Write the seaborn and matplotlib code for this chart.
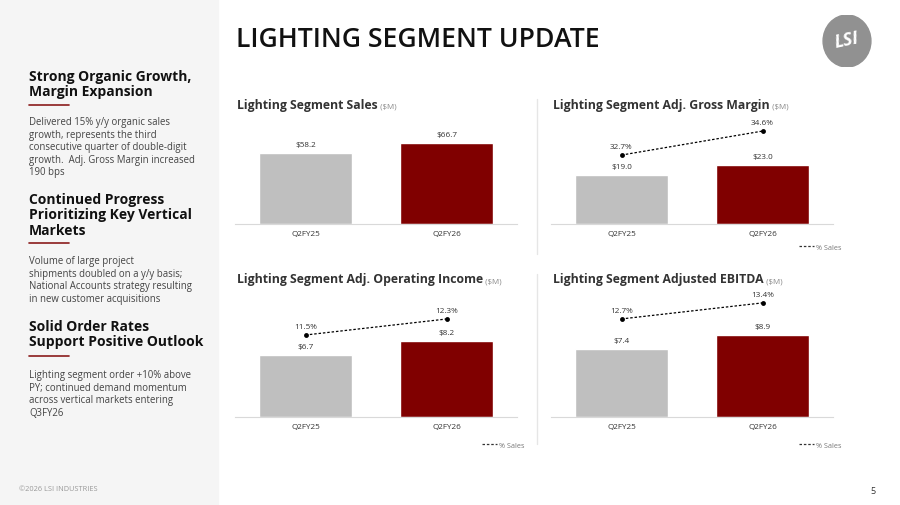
import matplotlib
matplotlib.use("Agg")
import matplotlib.pyplot as plt
import pandas as pd
import seaborn as sns
from matplotlib.lines import Line2D
from matplotlib.patches import Ellipse, Rectangle

# ---------------------------------------------------------------- data
PERIODS = ["Q2FY25", "Q2FY26"]
SALES = [58.2, 66.7]
GROSS_MARGIN = [19.0, 23.0]
GROSS_MARGIN_PCT = [32.7, 34.6]
OP_INCOME = [6.7, 8.2]
OP_INCOME_PCT = [11.5, 12.3]
EBITDA = [7.4, 8.9]
EBITDA_PCT = [12.7, 13.4]

HEADINGS = [
    "Strong Organic Growth,\nMargin Expansion",
    "Continued Progress\nPrioritizing Key Vertical\nMarkets",
    "Solid Order Rates\nSupport Positive Outlook",
]
BODIES = [
    "Delivered 15% y/y organic sales\ngrowth, represents the third\n"
    "consecutive quarter of double-digit\ngrowth.  Adj. Gross Margin increased\n190 bps",
    "Volume of large project\nshipments doubled on a y/y basis;\n"
    "National Accounts strategy resulting\nin new customer acquisitions",
    "Lighting segment order +10% above\nPY; continued demand momentum\n"
    "across vertical markets entering\nQ3FY26",
]

# ---------------------------------------------------------------- style
GREY = "#bfbfbf"
RED = "#800000"
ACCENT = "#8b1c1c"
TEXT = "#333333"
W, H = 900, 506

sns.set_theme(style="white")
plt.rcParams["font.family"] = ["Open Sans", "DejaVu Sans"]

fig = plt.figure(figsize=(W / 100, H / 100), dpi=100)
fig.patch.set_facecolor("white")


def px(x0, y0, x1, y1):
    """Pixel box (top-left origin) -> figure rect."""
    return [x0 / W, 1 - y1 / H, (x1 - x0) / W, (y1 - y0) / H]


def ftext(x, y, s, **kw):
    return fig.text(x / W, 1 - y / H, s, **kw)


# ---------------------------------------------------------------- sidebar
fig.patches.append(Rectangle((0, 0), 218 / W, 1, transform=fig.transFigure,
                             color="#f5f5f5", zorder=0))
for head, body, y_head, y_rule, y_body in zip(
        HEADINGS, BODIES, [70, 193, 320], [106, 244, 357], [117, 256, 370]):
    ftext(29, y_head, head, fontsize=10.0, weight="bold", color="#111111",
          va="top", linespacing=1.12)
    fig.add_artist(Line2D([29 / W, 69 / W], [1 - y_rule / H] * 2,
                          color=ACCENT, lw=1.2))
    ftext(29, y_body, body, fontsize=6.9, color="#444444", va="top",
          linespacing=1.2)
ftext(19, 490, "©2026 LSI INDUSTRIES", fontsize=5.3, color="#999999", va="center")
ftext(870, 492, "5", fontsize=6.5, color=TEXT, va="center")

# ---------------------------------------------------------------- header
ftext(236, 40, "LIGHTING SEGMENT UPDATE", fontsize=19.2, weight="semibold",
      color="#111111", va="center")
logo = fig.add_axes(px(821, 16, 873, 68))
logo.add_patch(Ellipse((0.5, 0.5), 0.92, 1.0, color="#919191"))
logo.text(0.5, 0.52, "LSI", color="white", fontsize=13, weight="bold",
          style="italic", ha="center", va="center", rotation=12)
logo.set_xlim(0, 1)
logo.set_ylim(0, 1)
logo.axis("off")

# separators between left and right panels
for y0, y1 in [(100, 255), (275, 445)]:
    fig.add_artist(Line2D([537 / W] * 2, [1 - y0 / H, 1 - y1 / H],
                          color="#e6e6e6", lw=1))

DASH = (0, (2.0, 1.5))


# ---------------------------------------------------------------- panels
def draw_panel(box, title, title_xy, values, ymax, pct=None, pct_lim=None,
               legend_xy=None):
    ax = fig.add_axes(px(*box))
    df = pd.DataFrame({"period": PERIODS, "value": values})
    sns.barplot(data=df, x="period", y="value", hue="period",
                palette=[GREY, RED], saturation=1, width=0.665,
                legend=False, ax=ax)
    ax.set_xlim(-0.5, 1.5)
    ax.set_ylim(0, ymax)
    for i, v in enumerate(values):
        ax.annotate(f"${v:.1f}", (i, v), xytext=(0, 3.5),
                    textcoords="offset points", ha="center", va="bottom",
                    fontsize=5.9, color=TEXT, annotation_clip=False)
    sns.despine(ax=ax, left=True)
    ax.spines["bottom"].set_color("#d9d9d9")
    ax.spines["bottom"].set_linewidth(0.8)
    ax.set_yticks([])
    ax.set_xlabel("")
    ax.set_ylabel("")
    ax.tick_params(axis="x", length=0, pad=4, labelsize=5.9, labelcolor=TEXT)
    ax.patch.set_alpha(0)

    if pct is not None:
        ax2 = ax.twinx()
        sns.lineplot(x=[0, 1], y=pct, ax=ax2, color="black", lw=0.9,
                     linestyle=DASH, marker="o", markersize=3.5,
                     markeredgewidth=0, legend=False)
        ax2.set_ylim(*pct_lim)
        ax2.set_xlim(-0.5, 1.5)
        for i, v in enumerate(pct):
            ax2.annotate(f"{v:.1f}%", (i, v), xytext=(0, 3.5),
                         textcoords="offset points", ha="center",
                         va="bottom", fontsize=5.9, color=TEXT,
                         annotation_clip=False)
        handle = Line2D([], [], color="#333333", lw=0.9, linestyle=DASH)
        ax2.legend([handle], ["% Sales"], loc="center right", frameon=False,
                   fontsize=5.2, handlelength=2.0, handletextpad=0.3,
                   labelcolor="#777777",
                   bbox_to_anchor=(legend_xy[0] / W, 1 - legend_xy[1] / H),
                   bbox_transform=fig.transFigure)
        ax2.axis("off")

    t = ftext(title_xy[0], title_xy[1], title, fontsize=8.8, weight="bold",
              color=TEXT, va="center")
    ax.annotate(" ($M)", xy=(1, 0.1), xycoords=t, fontsize=5.8,
                color="#8a8a8a", va="bottom", ha="left")
    return ax


draw_panel((235, 125, 517, 225), "Lighting Segment Sales", (237, 105),
           SALES, 82)
draw_panel((551, 125, 833, 225), "Lighting Segment Adj. Gross Margin",
           (553, 105), GROSS_MARGIN, 38.8, GROSS_MARGIN_PCT, (27.24, 35.16),
           (848, 248))
draw_panel((235, 300, 517, 418), "Lighting Segment Adj. Operating Income",
           (237, 280), OP_INCOME, 12.74, OP_INCOME_PCT, (7.4, 13.3),
           (531, 446))
draw_panel((551, 300, 833, 418), "Lighting Segment Adjusted EBITDA",
           (553, 280), EBITDA, 12.8, EBITDA_PCT, (8.42, 13.57),
           (848, 446))

fig.savefig("out.png", dpi=100)
